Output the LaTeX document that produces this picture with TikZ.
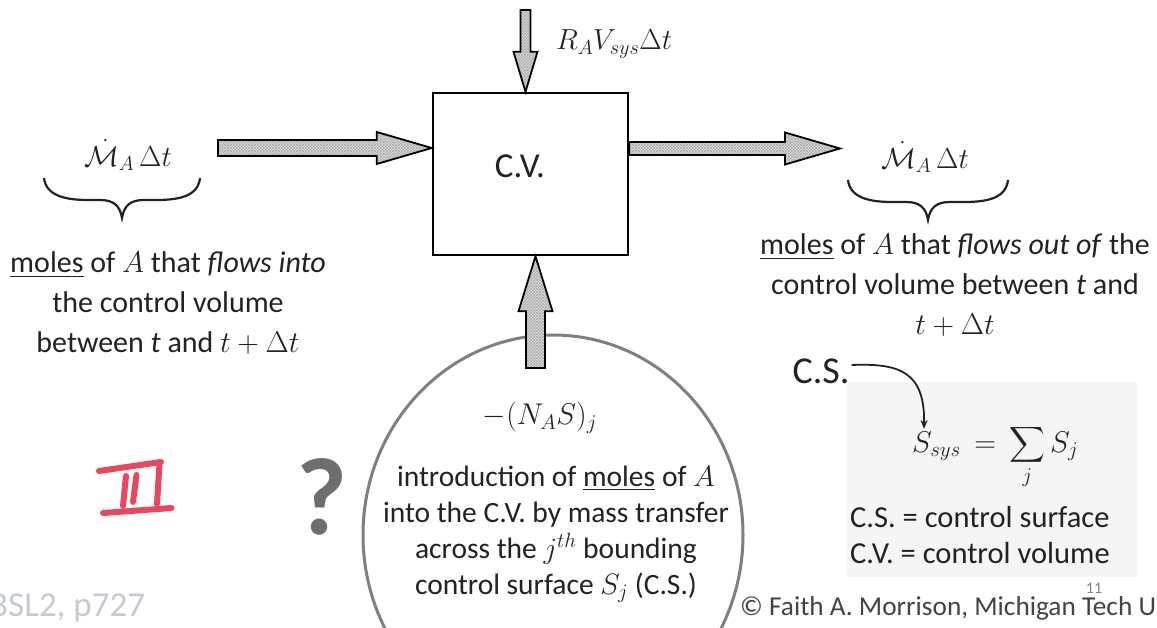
\RequirePackage{fix-cm}
\documentclass[tikz,border=0pt]{standalone}
\usepackage{exscale}
\usepackage{fontspec}
\setmainfont{Carlito}
\usetikzlibrary{patterns,arrows.meta,calc}
\definecolor{txt}{HTML}{222222}
\definecolor{ringgray}{HTML}{7F7F7F}
\definecolor{qgray}{HTML}{6E6E6E}
\definecolor{bslgray}{HTML}{C5CAD0}
\definecolor{redpen}{HTML}{E8475E}
\definecolor{eqbg}{HTML}{F5F5F5}
\newcommand\fs[2]{\fontsize{#1}{#2}\selectfont}
% horizontal block arrow pointing right: tail, tip, shaft half, head half, head length
\newcommand\harrow[5]{\draw[blk] ($(#1)+(0,-#3)$) -- ($(#2)+(-#5,-#3)$) -- ($(#2)+(-#5,-#4)$) -- (#2) -- ($(#2)+(-#5,#4)$) -- ($(#2)+(-#5,#3)$) -- ($(#1)+(0,#3)$) -- cycle;}
% vertical block arrow: tail, tip, shaft half, head half, signed head length (positive = pointing down)
\newcommand\varrow[5]{\draw[blk] ($(#1)+(-#3,0)$) -- ($(#2)+({-#3},{-1*(#5)})$) -- ($(#2)+({-#4},{-1*(#5)})$) -- (#2) -- ($(#2)+(#4,{-1*(#5)})$) -- ($(#2)+(#3,{-1*(#5)})$) -- ($(#1)+(#3,0)$) -- cycle;}
\begin{document}
\begin{tikzpicture}[x=1pt,y=-1pt,
  blk/.style={preaction={fill=gray!28}, preaction={pattern=crosshatch, pattern color=gray!65}, draw=black, line width=1.8pt, line join=miter},
  body/.style={text=txt, font=\fs{30}{40}, align=center, inner sep=0pt},
  mth/.style={text=txt, font=\fs{29}{34}, inner sep=0pt},
  brace/.style={draw=txt, line width=2.2pt},
  pen/.style={draw=redpen, line width=6pt, line cap=round}]
\useasboundingbox (0,0) rectangle (1157,628);
\fill[white] (0,0) rectangle (1157,628);

% faint background behind the equation
\fill[eqbg] (847,382) rectangle (1137,577);

% control volume
\node[draw=black, line width=2.5pt, minimum width=195pt, minimum height=162pt, inner sep=0pt] (cv) at (530.5,174) {};
\node[text=txt, font=\fs{35}{40}, inner sep=0pt] (cvlbl) at (520,166) {C.V.};

% control surface ellipse
\draw[ringgray, line width=3pt] (553,535) ellipse [x radius=190, y radius=200];

% block arrows
\coordinate (inTail) at (218,148);
\coordinate (inTip) at (cv.west |- inTail);
\harrow{inTail}{inTip}{8}{16}{55}
\coordinate (outTail) at (cv.east |- 0,148.5);
\coordinate (outTip) at (840,148.5);
\harrow{outTail}{outTip}{6.5}{16}{55}
\coordinate (topTail) at (525.5,10);
\coordinate (topTip) at (cv.north -| topTail);
\varrow{topTail}{topTip}{5}{12}{40}
\coordinate (botTail) at (535.5,368);
\coordinate (botTip) at (cv.south -| botTail);
\varrow{botTail}{botTip}{9.5}{17}{-55}

% labels of the flows
\node[mth] (inlbl) at (128,155) {$\dot{\mathcal{M}}_A\,\Delta t$};
\node[mth] (outlbl) at (925,157) {$\dot{\mathcal{M}}_A\,\Delta t$};
\node[mth, anchor=west] (rate) at (556,44) {$R_A V_{sys} \Delta t$};

% braces
\draw[brace] (44,178) .. controls (46,196) and (66,200) .. (88,200) -- (100,200)
  .. controls (114,200) and (120,206) .. (122,218)
  .. controls (124,206) and (130,200) .. (144,200) -- (156,200)
  .. controls (180,200) and (198,196) .. (200,178);
\draw[brace] (848,180) .. controls (850,198) and (870,202) .. (892,202) -- (906,202)
  .. controls (920,202) and (926,208) .. (928,220)
  .. controls (930,208) and (936,202) .. (950,202) -- (964,202)
  .. controls (988,202) and (1006,198) .. (1008,180);

% explanatory texts
\node[body] (intext) at (168,303) {\underline{moles} of $A$ that \textit{flows into}\\the control volume\\between \textit{t} and $t+\Delta t$};
\node[body] (outtext) at (955,285) {\underline{moles} of $A$ that \textit{flows out of} the\\control volume between \textit{t} and\\$t+\Delta t$};

% inside ellipse
\node[text=txt, font=\fs{30}{36}, inner sep=0pt] (flux) at (540,418) {$-(N_A S)_j$};
\node[body, font=\fs{29.5}{36}] (fluxtext) at (556,534) {introduction of \underline{moles} of $A$\\into the C.V. by mass transfer\\across the $j^{th}$ bounding\\control surface $S_j$ (C.S.)};

% C.S. pointer and equation
\node[text=txt, font=\fs{38}{40}, inner sep=0pt] (cs) at (821,371) {C.S.};
\node[text=txt, font=\fs{30}{34}, inner sep=0pt, anchor=base west] (ssys) at (912,452) {$S_{sys} \,=\, \displaystyle\sum_j S_j$};
\coordinate (csStart) at ($(cs.east)+(2,-6)$);
\coordinate (csTip) at (924,429);
\draw[txt, line width=1.8pt, -{Stealth[length=9pt,width=7pt]}] (csStart) .. controls (900,363) and (925,372) .. (csTip);

\node[text=txt, font=\fs{30.5}{36}, inner sep=0pt, anchor=west] (defcs) at (850,517) {C.S. = control surface};
\node[text=txt, font=\fs{30.5}{36}, inner sep=0pt, anchor=west] (defcv) at (850,553) {C.V. = control volume};

% footer
\node[text=gray, font=\fs{16}{18}, inner sep=0pt] (pg) at (1094,588) {11};
\node[text=txt!85, font=\fs{27.3}{30}, inner sep=0pt, anchor=west] (copy) at (740,608) {© Faith A. Morrison, Michigan Tech U};
\node[text=bslgray, font=\fs{35}{36}, inner sep=0pt, anchor=west] (bsl) at (-11,608) {BSL2, p727};

% question mark
\node[text=qgray, font=\fs{110}{110}\bfseries, inner sep=0pt] (q) at (322,497) {?};

% red handwritten III
\draw[pen] (99,471) -- (161,462);
\draw[pen] (159.5,464) -- (157,504);
\draw[pen] (126,476) -- (123,506);
\draw[pen] (136.5,475) -- (133,502);
\draw[pen] (103,513) -- (171.5,508);
\end{tikzpicture}
\end{document}
